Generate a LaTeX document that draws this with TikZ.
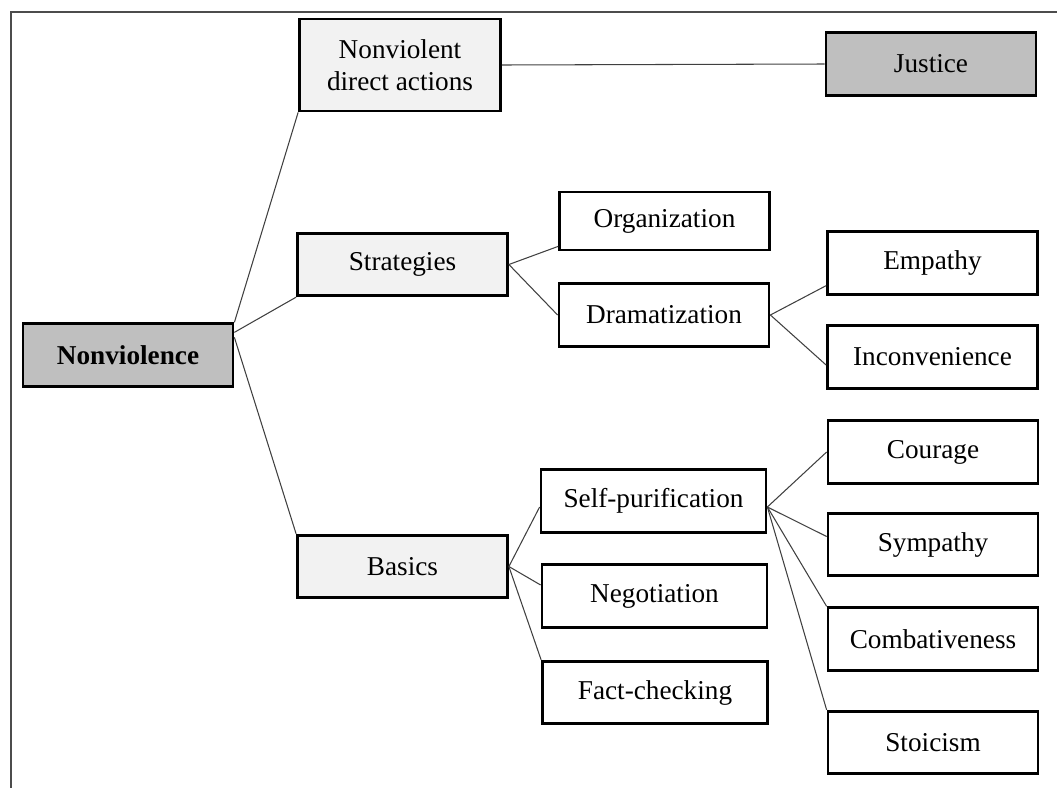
\documentclass[tikz,border=0pt]{standalone}
\usepackage{fontspec}
\setmainfont{Liberation Serif}
\usetikzlibrary{calc}

\begin{document}
\begin{tikzpicture}[x=0.02cm,y=-0.02cm,
        box/.style={draw=black,line width=1.6pt,rectangle,align=center,
            minimum width=4.2cm,minimum height=1.25cm,inner sep=2pt,
            font=\fontsize{15.5}{18}\selectfont},
        darkbox/.style={box,fill=black!25},
        lightbox/.style={box,fill=black!5},
        widebox/.style={box,minimum width=4.5cm},
        link/.style={draw=black!75,line width=0.6pt}]
        % Draw page bounds and frame
        \useasboundingbox (0,0) rectangle (1057,788);
        \draw[black!70,line width=0.8pt] (1057,12) -- (11,12) -- (11,788);
        % Draw root and first level
        \node[darkbox,font=\fontsize{15.5}{18}\selectfont\bfseries] (nonv) at (128,355) {Nonviolence};
        \node[lightbox,minimum width=4.02cm,minimum height=1.84cm] (nda) at (400,65) {Nonviolent\\direct actions};
        \node[darkbox] (justice) at (931,64) {Justice};
        \node[lightbox] (strat) at (402.5,264.5) {Strategies};
        \node[lightbox] (basics) at (402.5,566.5) {Basics};
        % Draw second level
        \node[box,minimum height=1.16cm] (org) at (664.5,221) {Organization};
        \node[box] (drama) at (664,315) {Dramatization};
        \node[widebox] (selfp) at (653.5,501) {Self-purification};
        \node[widebox] (nego) at (654.5,596) {Negotiation};
        \node[widebox] (fact) at (655,692.5) {Fact-checking};
        % Draw third level
        \node[box] (emp) at (932.5,263) {Empathy};
        \node[box] (inc) at (932.5,357) {Inconvenience};
        \node[box] (cour) at (933,452) {Courage};
        \node[box] (symp) at (933,544.5) {Sympathy};
        \node[box] (comb) at (933,639) {Combativeness};
        \node[box] (stoic) at (933,742.5) {Stoicism};
        % Draw connectors
        \draw[link] (nonv.north east) -- (nda.south west);
        \draw[link] ($(nonv.north east)+(0,10)$) -- (strat.south west);
        \draw[link] ($(nonv.north east)+(0,15)$) -- (basics.north west);
        \draw[link] (nda.east) -- (justice.west);
        \draw[link] (strat.east) -- ($(org.south west)+(0,-5)$);
        \draw[link] (strat.east) -- (drama.west);
        \draw[link] (drama.east) -- ($(emp.south west)+(0,-10)$);
        \draw[link] (drama.east) -- ($(inc.west)+(0,8)$);
        \draw[link] (basics.east) -- ($(selfp.west)+(0,6)$);
        \draw[link] (basics.east) -- ($(nego.west)+(0,-11)$);
        \draw[link] (basics.east) -- (fact.north west);
        \coordinate (spout) at ($(selfp.east)+(0,6)$);
        \draw[link] (spout) -- (cour.west);
        \draw[link] (spout) -- ($(symp.west)+(0,-8)$);
        \draw[link] (spout) -- (comb.north west);
        \draw[link] (spout) -- (stoic.north west);
    \end{tikzpicture}
\end{document}
